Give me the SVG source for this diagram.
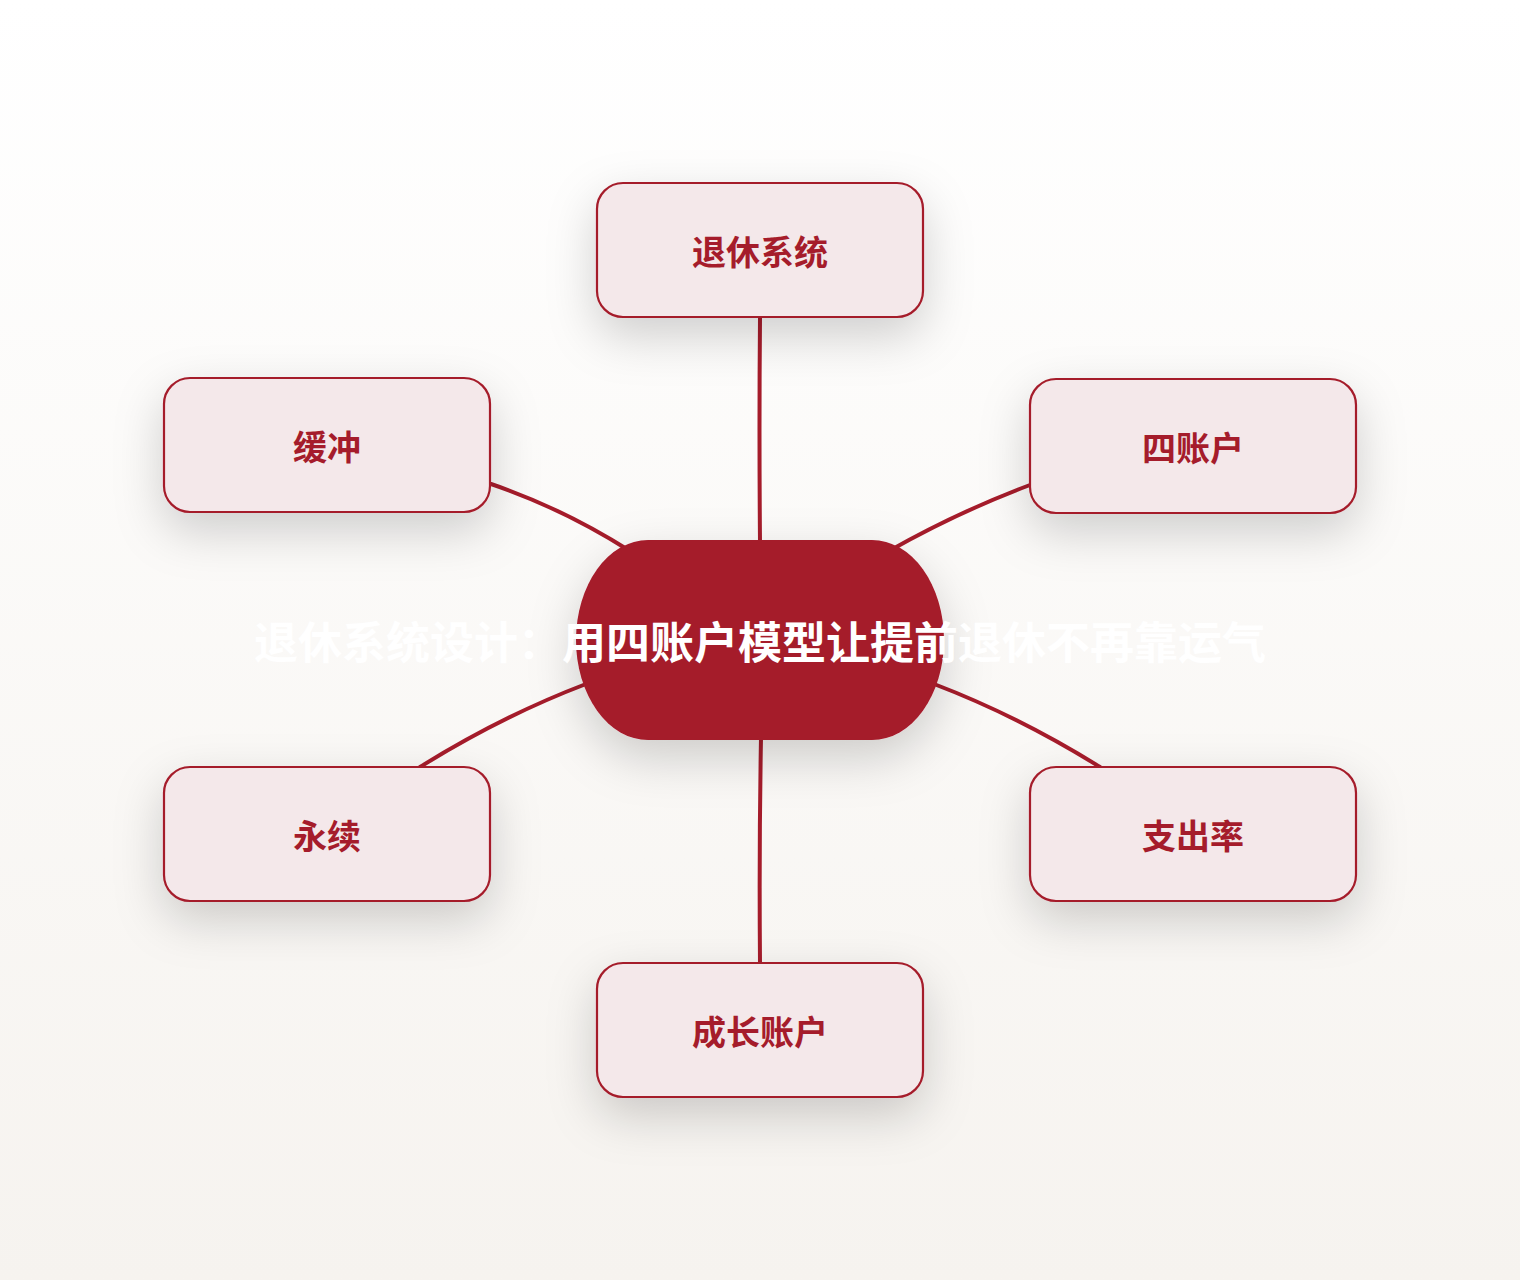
<svg xmlns="http://www.w3.org/2000/svg" width="1520" height="1280" viewBox="0 0 1520 1280">
  <defs>
    <linearGradient id="bg" x1="0" y1="0" x2="0" y2="1">
      <stop offset="0" stop-color="#FFFFFF"/>
      <stop offset="1" stop-color="#F6F3EF"/>
    </linearGradient>
    <filter id="shadow" x="-50%" y="-70%" width="200%" height="260%">
      <feDropShadow dx="0" dy="18" stdDeviation="24" flood-color="#000000" flood-opacity="0.18"/>
    </filter>
    <style>
      .node rect.box { fill: #F4E8EA; stroke: #A51C2B; stroke-width: 2.2; filter: url(#shadow); }
      .label { font-family: "Noto Sans CJK SC", "Noto Sans", sans-serif; font-weight: 700; font-size: 34px; fill: #A51C2B; text-anchor: middle; }
      .title { font-family: "Noto Sans CJK SC", "Noto Sans", sans-serif; font-weight: 700; font-size: 44px; fill: #FFFFFF; text-anchor: middle; }
      .edge { fill: none; stroke: #A51C2B; stroke-width: 4; stroke-linecap: round; }
    </style>
  </defs>
  <rect x="0" y="0" width="1520" height="1280" fill="url(#bg)"/>

  <g id="connectors">
    <path class="edge" d="M760,318 Q759,430 760,542"/>
    <path class="edge" d="M491,484 Q562,508 630,551"/>
    <path class="edge" d="M1030,485 Q958,512 889,551"/>
    <path class="edge" d="M586,684 Q502,716 420,767"/>
    <path class="edge" d="M934,684 Q1018,716 1100,767"/>
    <path class="edge" d="M761,738 Q759,850 760,963"/>
  </g>

  <g id="node-top" class="node">
    <rect class="box" x="597" y="183" width="326" height="134" rx="26"/>
    <text class="label" x="760" y="265">退休系统</text>
  </g>
  <g id="node-buffer" class="node">
    <rect class="box" x="164" y="378" width="326" height="134" rx="26"/>
    <text class="label" x="327" y="460">缓冲</text>
  </g>
  <g id="node-four-accounts" class="node">
    <rect class="box" x="1030" y="379" width="326" height="134" rx="26"/>
    <text class="label" x="1193" y="461">四账户</text>
  </g>
  <g id="node-perpetual" class="node">
    <rect class="box" x="164" y="767" width="326" height="134" rx="26"/>
    <text class="label" x="327" y="849">永续</text>
  </g>
  <g id="node-spending-rate" class="node">
    <rect class="box" x="1030" y="767" width="326" height="134" rx="26"/>
    <text class="label" x="1193" y="849">支出率</text>
  </g>
  <g id="node-growth" class="node">
    <rect class="box" x="597" y="963" width="326" height="134" rx="26"/>
    <text class="label" x="760" y="1045">成长账户</text>
  </g>

  <g id="node-center">
    <rect x="576" y="540" width="368" height="200" rx="72" ry="100" fill="#A51A2A" filter="url(#shadow)"/>
    <text class="title" x="760" y="659">退休系统设计：用四账户模型让提前退休不再靠运气</text>
  </g>
</svg>
